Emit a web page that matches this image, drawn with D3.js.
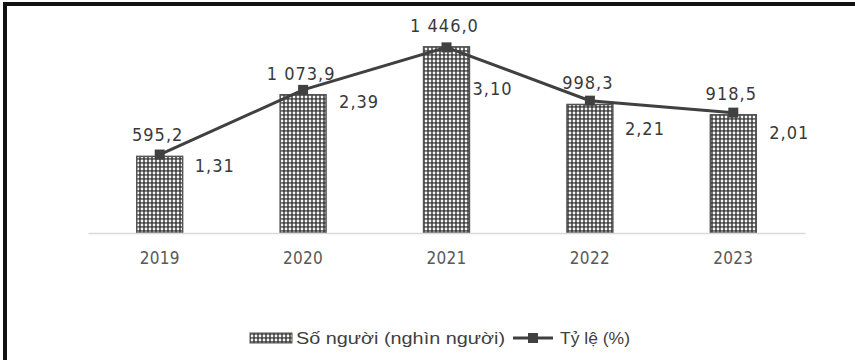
<!DOCTYPE html>
<html>
<head>
<meta charset="utf-8">
<script src="https://cdn.jsdelivr.net/npm/d3@7"></script>
<style>
  body { margin: 0; background: #fff; }
  svg { display: block; }
</style>
</head>
<body>
<div id="chart"></div>
<script>
const YEARS = ["2019", "2020", "2021", "2022", "2023"];
const SO_NGUOI = [595.2, 1073.9, 1446.0, 998.3, 918.5];
const TY_LE = [1.31, 2.39, 3.10, 2.21, 2.01];
const SO_NGUOI_LABELS = ["595,2", "1 073,9", "1 446,0", "998,3", "918,5"];
const TY_LE_LABELS = ["1,31", "2,39", "3,10", "2,21", "2,01"];
const LEGEND = ["Số người (nghìn người)", "Tỷ lệ (%)"];

// label nudges (px) for the line labels, placed by hand like the original
const lineLabelDx = [35, 36, 26, 35, 36];
const lineLabelDy = [11, 12, 42, 28, 20];

const W = 855, H = 360,
MARGIN = {top: 27, right: 50, bottom: 127, left: 88},
PW = 805 - MARGIN.left,
PH = 233 - MARGIN.top;

const svg = d3.select("#chart").append("svg")
    .attr("width", W)
    .attr("height", H);

// dotted fill for the bars
const pat = svg.append("defs").append("pattern")
    .attr("id", "dots")
    .attr("patternUnits", "userSpaceOnUse")
    .attr("width", 4)
    .attr("height", 4);
pat.append("rect").attr("width", 4).attr("height", 4).attr("fill", "#444");
pat.append("circle").attr("cx", 2).attr("cy", 2).attr("r", 1.4).attr("fill", "#f6f6f6");

// frame (top + left only, as in the scan)
svg.append("rect").attr("x", 0).attr("y", 0).attr("width", W).attr("height", H).attr("fill", "#fff");
svg.append("line").attr("x1", 3).attr("x2", W).attr("y1", 4).attr("y2", 4)
    .attr("stroke", "#111").attr("stroke-width", 4);
svg.append("line").attr("x1", 5).attr("x2", 5).attr("y1", 2).attr("y2", H)
    .attr("stroke", "#111").attr("stroke-width", 4);

const g = svg.append("g")
    .attr("transform", `translate(${MARGIN.left},${MARGIN.top})`);

var x = d3.scaleBand()
    .domain(YEARS)
    .range([0, PW])
    .paddingInner(0.68)
    .paddingOuter(0.34);

var y = d3.scaleLinear().domain([0, 1600]).range([PH, 0]);
var y2 = d3.scaleLinear().domain([0, 3.44]).range([PH, 0]);

const data = YEARS.map((d, i) => ({year: d, n: SO_NGUOI[i], r: TY_LE[i], i: i}));

const labelFont = "'DejaVu Sans Condensed', 'Liberation Sans Narrow', 'Liberation Sans', sans-serif";

// bars
g.selectAll(".bar")
    .data(data)
    .enter()
    .append("rect")
    .classed("bar", true)
    .attr("x", d => x(d.year))
    .attr("y", d => y(d.n))
    .attr("width", x.bandwidth())
    .attr("height", d => PH - y(d.n))
    .attr("fill", "url(#dots)")
    .attr("stroke", "#555")
    .attr("stroke-width", 1.5);

// x axis
const xAxis = g.append("g")
    .attr("transform", `translate(0,${PH})`)
    .call(d3.axisBottom(x).tickSize(0).tickPadding(19));
xAxis.select(".domain").attr("stroke", "#d9d9d9").attr("stroke-width", 1.5);
xAxis.selectAll("text")
    .attr("fill", "#595959")
    .style("font-family", labelFont)
    .style("font-size", "17px")
    .style("letter-spacing", "0.3px");

// line
const cx = d => x(d.year) + x.bandwidth() / 2;
g.append("path")
    .datum(data)
    .attr("fill", "none")
    .attr("stroke", "#404040")
    .attr("stroke-width", 3)
    .attr("d", d3.line().x(cx).y(d => y2(d.r)));

g.selectAll(".mark")
    .data(data)
    .enter()
    .append("rect")
    .classed("mark", true)
    .attr("x", d => cx(d) - 5)
    .attr("y", d => y2(d.r) - 5)
    .attr("width", 10)
    .attr("height", 10)
    .attr("fill", "#404040");

// bar value labels
g.selectAll(".nlab")
    .data(data)
    .enter()
    .append("text")
    .classed("nlab", true)
    .attr("x", d => cx(d) - 2)
    .attr("y", d => y(d.n) - 15)
    .attr("text-anchor", "middle")
    .attr("fill", "#3a3a3a")
    .style("font-family", labelFont)
    .style("font-size", "18px")
    .style("letter-spacing", "1px")
    .text(d => SO_NGUOI_LABELS[d.i]);

// line value labels
g.selectAll(".rlab")
    .data(data)
    .enter()
    .append("text")
    .classed("rlab", true)
    .attr("x", d => cx(d) + lineLabelDx[d.i])
    .attr("y", d => y2(d.r) + lineLabelDy[d.i] + 6)
    .attr("text-anchor", "start")
    .attr("fill", "#3a3a3a")
    .style("font-family", labelFont)
    .style("font-size", "18px")
    .style("letter-spacing", "1px")
    .text(d => TY_LE_LABELS[d.i]);

// legend
const lg = svg.append("g").attr("transform", "translate(250,338)");
lg.append("rect")
    .attr("x", 0).attr("y", -5).attr("width", 42).attr("height", 10)
    .attr("fill", "url(#dots)")
    .attr("stroke", "#555");
lg.append("text")
    .attr("x", 46).attr("y", 6)
    .attr("fill", "#404040")
    .attr("textLength", 209)
    .attr("lengthAdjust", "spacingAndGlyphs")
    .style("font-family", "'Liberation Sans', Arial, sans-serif")
    .style("font-size", "16px")
    .text(LEGEND[0]);
lg.append("line")
    .attr("x1", 263).attr("x2", 303).attr("y1", 0).attr("y2", 0)
    .attr("stroke", "#404040").attr("stroke-width", 3);
lg.append("rect")
    .attr("x", 278).attr("y", -5).attr("width", 10).attr("height", 10)
    .attr("fill", "#404040");
lg.append("text")
    .attr("x", 310).attr("y", 6)
    .attr("fill", "#404040")
    .attr("textLength", 70)
    .attr("lengthAdjust", "spacingAndGlyphs")
    .style("font-family", "'Liberation Sans', Arial, sans-serif")
    .style("font-size", "16px")
    .text(LEGEND[1]);
</script>
</body>
</html>
